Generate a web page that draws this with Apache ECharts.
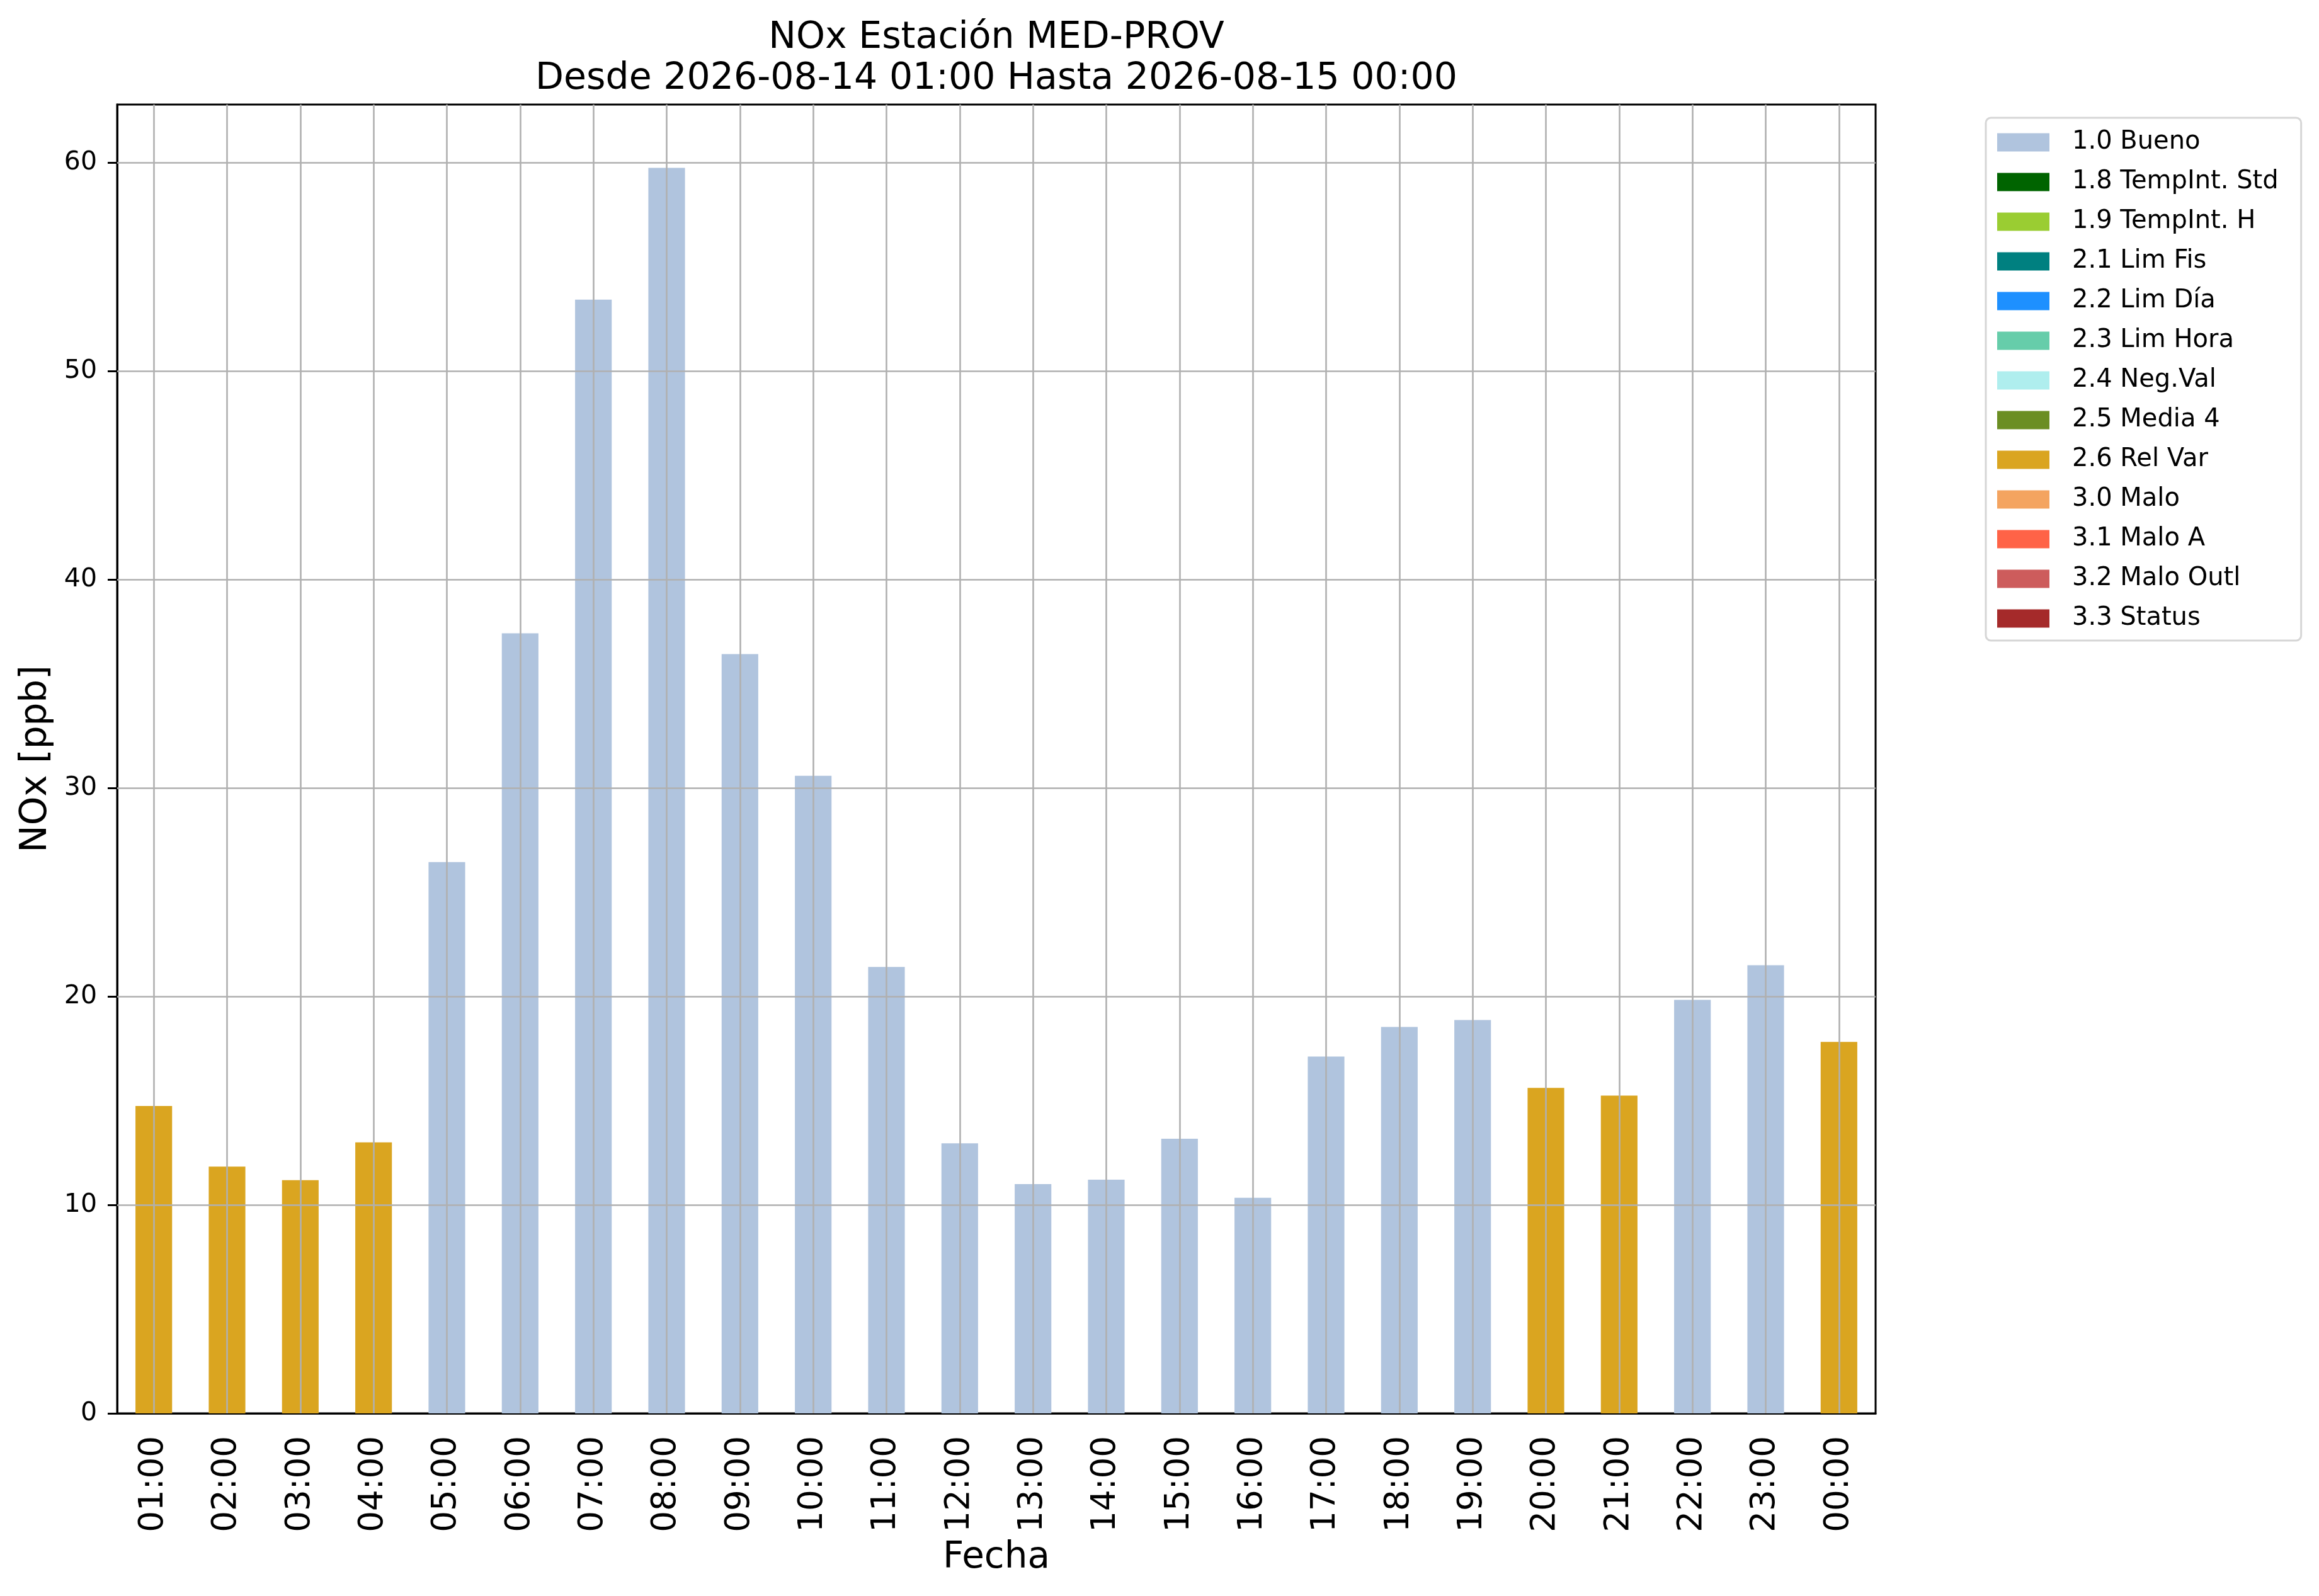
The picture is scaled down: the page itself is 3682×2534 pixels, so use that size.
<!DOCTYPE html>
<html>
<head>
<meta charset="utf-8">
<title>NOx MED-PROV</title>
<script src="https://cdn.jsdelivr.net/npm/echarts@6.0.0/dist/echarts.min.js"></script>
<style>
  html, body { margin: 0; padding: 0; background: #fff; }
  #chart { width: 3682px; height: 2534px; }
</style>
</head>
<body>
<div id="chart"></div>
<script>
const hours = ["01:00", "02:00", "03:00", "04:00", "05:00", "06:00", "07:00", "08:00",
  "09:00", "10:00", "11:00", "12:00", "13:00", "14:00", "15:00", "16:00",
  "17:00", "18:00", "19:00", "20:00", "21:00", "22:00", "23:00", "00:00"];

// NOx hourly values [ppb]
const nox = [14.75, 11.84, 11.19, 13.0, 26.45, 37.43, 53.44, 59.76,
  36.43, 30.59, 21.42, 12.96, 11.0, 11.21, 13.18, 10.34,
  17.12, 18.54, 18.87, 15.62, 15.25, 19.84, 21.5, 17.82];

// quality flag of each hour
const flags = ["2.6 Rel Var", "2.6 Rel Var", "2.6 Rel Var", "2.6 Rel Var",
  "1.0 Bueno", "1.0 Bueno", "1.0 Bueno", "1.0 Bueno", "1.0 Bueno", "1.0 Bueno",
  "1.0 Bueno", "1.0 Bueno", "1.0 Bueno", "1.0 Bueno", "1.0 Bueno", "1.0 Bueno",
  "1.0 Bueno", "1.0 Bueno", "1.0 Bueno", "2.6 Rel Var", "2.6 Rel Var",
  "1.0 Bueno", "1.0 Bueno", "2.6 Rel Var"];

const qualityNames = ["1.0 Bueno", "1.8 TempInt. Std", "1.9 TempInt. H", "2.1 Lim Fis",
  "2.2 Lim Día", "2.3 Lim Hora", "2.4 Neg.Val", "2.5 Media 4", "2.6 Rel Var",
  "3.0 Malo", "3.1 Malo A", "3.2 Malo Outl", "3.3 Status"];
const qualityColors = ["#b0c4de", "#006400", "#9acd32", "#008080", "#1e90ff", "#66cdaa",
  "#afeeee", "#6b8e23", "#daa520", "#f4a460", "#ff6347", "#cd5c5c", "#a52a2a"];

const yTicks = [0, 10, 20, 30, 40, 50, 60];
const yMax = 62.8;

const FONT = "DejaVu Sans";
const GRID_COLOR = "#b0b0b0";

const chart = echarts.init(document.getElementById("chart"), null, { renderer: "canvas" });

const barSeries = qualityNames.map((name, k) => ({
  name: name,
  type: "bar",
  stack: "total",
  barWidth: "50%",
  itemStyle: { color: qualityColors[k] },
  data: nox.map((v, i) => (flags[i] === name ? v : "-"))
}));

// grid lines drawn over the bars, like matplotlib does
const gridSeries = {
  name: "grid",
  type: "line",
  data: hours.map(() => "-"),
  z: 5,
  silent: true,
  markLine: {
    silent: true,
    symbol: ["none", "none"],
    label: { show: false },
    animation: false,
    lineStyle: { color: GRID_COLOR, width: 2.6, type: "solid" },
    data: hours.map(h => ({ xAxis: h })).concat(yTicks.slice(1).map(t => ({ yAxis: t })))
  }
};

const titleStyle = { fontFamily: FONT, fontSize: 58.5, fontWeight: "normal", color: "#000", lineHeight: 60 };

const option = {
  animation: false,
  backgroundColor: "#fff",
  textStyle: { fontFamily: FONT, color: "#000" },
  title: [
    { text: "NOx Estación MED-PROV", left: 1577, top: 26, textAlign: "center", textStyle: titleStyle },
    { text: "Desde 2026-08-14 01:00 Hasta 2026-08-15 00:00", left: 1577, top: 91, textAlign: "center", textStyle: titleStyle }
  ],
  legend: {
    data: qualityNames,
    orient: "vertical",
    left: 3153,
    top: 187,
    icon: "rect",
    itemWidth: 83,
    itemHeight: 29,
    itemGap: 23,
    selectedMode: false,
    padding: [19, 36, 15, 18],
    backgroundColor: "#fff",
    borderColor: "#d6d6d6",
    borderWidth: 3,
    borderRadius: 8,
    textStyle: { fontFamily: FONT, fontSize: 40, color: "#000", padding: [0, 0, 0, 31] }
  },
  grid: {
    left: 186, right: 704, top: 166, bottom: 290,
    show: true, borderColor: "#000", borderWidth: 3, backgroundColor: "transparent"
  },
  xAxis: {
    type: "category",
    data: hours,
    boundaryGap: true,
    name: "Fecha",
    nameLocation: "middle",
    nameGap: 201,
    nameTextStyle: { fontFamily: FONT, fontSize: 58, color: "#000" },
    axisLine: { lineStyle: { color: "#000", width: 3 } },
    axisTick: { alignWithLabel: true, length: 15, lineStyle: { color: "#000", width: 3 } },
    axisLabel: { rotate: 90, fontFamily: FONT, fontSize: 53, color: "#000", margin: 36, interval: 0 },
    splitLine: { show: false }
  },
  yAxis: {
    type: "value",
    min: 0,
    max: yMax,
    interval: 10,
    name: "NOx [ppb]",
    nameLocation: "middle",
    nameRotate: 90,
    nameGap: 99,
    nameTextStyle: { fontFamily: FONT, fontSize: 58, color: "#000" },
    axisLine: { show: true, lineStyle: { color: "#000", width: 3 } },
    axisTick: { show: true, length: 15, lineStyle: { color: "#000", width: 3 } },
    axisLabel: { fontFamily: FONT, fontSize: 41, color: "#000", margin: 32, showMaxLabel: false },
    splitLine: { show: false }
  },
  series: barSeries.concat([gridSeries])
};

chart.setOption(option);
</script>
</body>
</html>
